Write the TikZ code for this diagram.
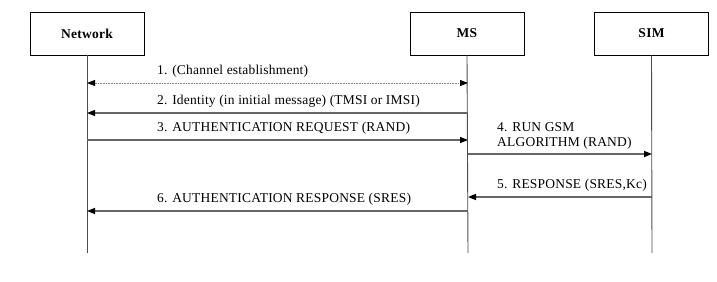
\documentclass[tikz,border=0pt]{standalone}
\usepackage{fontspec}
\setmainfont{Liberation Serif}
\usetikzlibrary{arrows.meta}
\begin{document}
\begin{tikzpicture}[x=1pt,y=-1pt,
  tip/.style={Triangle[length=8pt,width=6pt,fill=black,color=black]},
  entity/.style={draw=black, line width=0.8pt, minimum width=114pt, minimum height=43pt, inner sep=0pt, font=\fontsize{13.5}{15}\selectfont\bfseries\addfontfeatures{LetterSpace=2}},
  life/.style={draw=black!70, line width=0.9pt},
  msg/.style={draw=black!60, line width=1.4pt, -{Triangle[length=8pt,width=6pt,black]}},
  dmsg/.style={draw=black!50, line width=0.8pt, dash pattern=on 0.8pt off 0.8pt, {Triangle[length=8pt,width=6pt,black]}-{Triangle[length=8pt,width=6pt,black]}},
  lbl/.style={anchor=base west, inner sep=0pt, font=\fontsize{13.5}{15}\selectfont\addfontfeatures{LetterSpace=1.5}}]
\useasboundingbox (0,0) rectangle (717,281);
\node[entity] (net) at (87,33.5) {Network};
\node[entity] (ms) at (467,33.5) {MS};
\node[entity] (sim) at (651.5,33.5) {SIM};
\coordinate (netE) at (87,253);
\coordinate (msE) at (468,253);
\coordinate (simE) at (652,253);
\draw[life] (net.south) -- (netE);
\draw[life] (ms.south) -- (msE);
\draw[life] (sim.south) -- (simE);
% message points
\coordinate (n1) at (87,83);   \coordinate (m1) at (468,83);
\coordinate (n2) at (87,113);  \coordinate (m2) at (468,113);
\coordinate (n3) at (87,140);  \coordinate (m3) at (468,140);
\coordinate (m4) at (468,154); \coordinate (s4) at (652,154);
\coordinate (m5) at (468,197); \coordinate (s5) at (652,197);
\coordinate (n6) at (87,211);  \coordinate (m6) at (468,211);
\draw[dmsg] (n1) -- (m1);
\draw[msg] (m2) -- (n2);
\draw[msg] (n3) -- (m3);
\draw[msg] (m4) -- (s4);
\draw[msg] (s5) -- (m5);
\draw[msg] (m6) -- (n6);
\node[lbl] (l1) at (157,74) {1. (Channel establishment)};
\node[lbl] (l2) at (157,104) {2. Identity (in initial message) (TMSI or IMSI)};
\node[lbl] (l3) at (157,131) {3. AUTHENTICATION REQUEST (RAND)};
\node[lbl] (l4a) at (497,131) {4. RUN GSM};
\node[lbl] (l4b) at (497,146) {ALGORITHM (RAND)};
\node[lbl] (l5) at (497,188) {5. RESPONSE (SRES,Kc)};
\node[lbl] (l6) at (157,202) {6. AUTHENTICATION RESPONSE (SRES)};
\end{tikzpicture}
\end{document}
